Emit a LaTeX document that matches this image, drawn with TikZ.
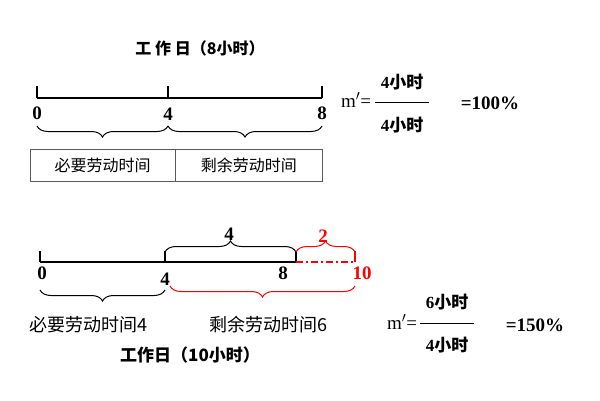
\documentclass[tikz,border=0pt]{standalone}
\usepackage{fontspec}
\setmainfont{Liberation Serif}
\newfontfamily\cjk{Noto Sans CJK SC}
\usetikzlibrary{decorations.pathreplacing}
\begin{document}
\begin{tikzpicture}[x=1pt,y=-1pt,
  ln/.style={line width=1.5pt},
  br/.style={decorate,decoration={brace,amplitude=11pt},line width=1pt},
  num/.style={font=\bfseries\fontsize{19}{19}\selectfont},
  cn/.style={font=\cjk\fontsize{18}{18}\selectfont},
  fr/.style={font=\bfseries\fontsize{17}{17}\selectfont}]
\useasboundingbox (0,0) rectangle (600,400);
% top
\node[font=\cjk\bfseries\fontsize{16}{16}\selectfont] (t1) at (200,48) {工\ 作\ 日（8小时）};
\coordinate (a0) at (37,98); \coordinate (a4) at (168,98); \coordinate (a8) at (322,98);
\draw[ln] (a0) -- (a8);
\foreach \p in {a0,a4,a8} \draw[ln] (\p) -- ++(0,-12);
\node[num] (l0) at (37,113) {0};
\node[num] (l4) at (168,114) {4};
\node[num] (l8) at (322,113) {8};
\draw[br] (168,126) -- (37,126);
\draw[br] (322,126) -- (168,126);
\node[draw,font=\cjk\fontsize{16}{16}\selectfont,minimum width=145,minimum height=32,inner sep=0,draw=gray!70!black] (b1) at (102.5,165) {必要劳动时间\hspace{12pt}};
\node[draw,font=\cjk\fontsize{16}{16}\selectfont,minimum width=147,minimum height=32,inner sep=0,anchor=west,draw=gray!70!black] (b2) at (b1.east) {剩余劳动时间\hspace{25pt}};
\node[font=\fontsize{19}{19}\selectfont] (m1) at (356,100) {m$'$=};
\node[fr] (f1n) at (402,82) {4{\cjk 小时}};
\node[fr] (f1d) at (402,125) {4{\cjk 小时}};
\draw[line width=0.9pt] (375,102) -- (429,102);
\node[font=\bfseries\fontsize{19}{19}\selectfont] (p1) at (490,103) {=100\%};
% bottom
\coordinate (c0) at (40,262); \coordinate (c4) at (165,262); \coordinate (c8) at (296,262); \coordinate (c10) at (355,262);
\draw[ln] (c0) -- (c8);
\foreach \p in {c0,c4,c8} \draw[ln] (\p) -- ++(0,-11);
\draw[red,line width=1.5pt,dash pattern=on 7pt off 3pt on 2pt off 3pt] (c8) -- (c10);
\draw[red,line width=1.5pt] (c10) -- ++(0,-11);
\draw[br] (165,252) -- (296,252);
\node[num] (n4) at (229,234) {4};
\draw[br,red] (296,252) -- (355,252);
\node[num,text=red] (n2) at (323,236) {2};
\node[num] (k0) at (42,273) {0};
\node[num] (k4) at (165,279) {4};
\node[num] (k8) at (283,273) {8};
\node[num,text=red] (k10) at (362,273) {10};
\draw[br] (165,290) -- (40,290);
\draw[br,red] (355,286) -- (170,286);
\node[cn] (s1) at (88,325) {必要劳动时间4};
\node[cn] (s2) at (268,325) {剩余劳动时间6};
\node[font=\cjk\bfseries\fontsize{17}{17}\selectfont] (t2) at (190,355) {工作日（10小时）};
\node[font=\fontsize{19}{19}\selectfont] (m2) at (402,322) {m$'$=};
\node[fr] (f2n) at (447,302) {6{\cjk 小时}};
\node[fr] (f2d) at (447,345) {4{\cjk 小时}};
\draw[line width=0.9pt] (420,323) -- (474,323);
\node[font=\bfseries\fontsize{19}{19}\selectfont] (p2) at (535,325) {=150\%};
\end{tikzpicture}
\end{document}
